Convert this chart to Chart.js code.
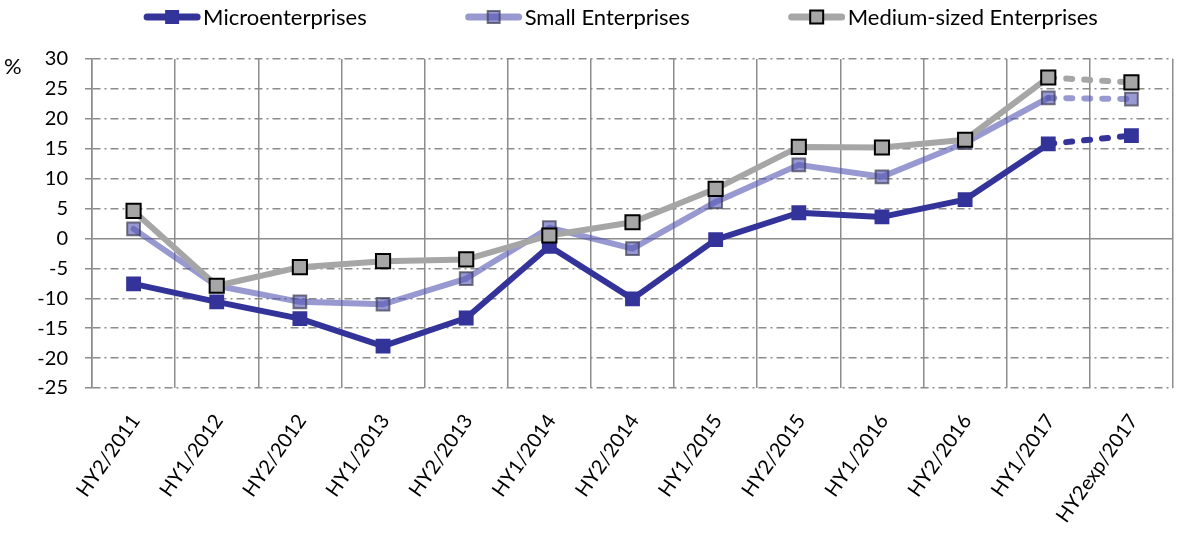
<!DOCTYPE html>
<html>
<head>
<meta charset="utf-8">
<script src="https://cdn.jsdelivr.net/npm/chart.js@4"></script>
<style>
  html, body { margin: 0; padding: 0; background: #fff; }
  #wrap { width: 1177px; height: 534px; position: relative; }
</style>
</head>
<body>
<div id="wrap"><canvas id="trendChart"></canvas></div>
<script>
const labels = ['HY2/2011', 'HY1/2012', 'HY2/2012', 'HY1/2013', 'HY2/2013', 'HY1/2014', 'HY2/2014',
                'HY1/2015', 'HY2/2015', 'HY1/2016', 'HY2/2016', 'HY1/2017', 'HY2exp/2017'];
const micro  = [-7.6, -10.6, -13.4, -18.0, -13.3, -1.3, -10.1, -0.2, 4.3, 3.6, 6.5, 15.8, 17.2];
const small  = [1.6, -7.9, -10.6, -11.0, -6.7, 1.8, -1.7, 6.1, 12.3, 10.3, 16.0, 23.5, 23.3];
const medium = [4.6, -7.9, -4.8, -3.8, -3.5, 0.5, 2.7, 8.3, 15.3, 15.2, 16.5, 26.9, 26.1];
const yMin = -25, yMax = 30, yStep = 5;

const FONT = 'Lato';
const GRID = '#8c8c8c';
const lastIdx = labels.length - 1;

// the last segment is the expected value, drawn dashed
const dashLast = { borderDash: ctx => ctx.p1DataIndex === lastIdx ? [6, 12] : undefined };

function series(label, data, opts) {
    return Object.assign({
        label: label,
        data: data,
        borderWidth: 6,
        borderCapStyle: 'round',
        borderJoinStyle: 'round',
        pointStyle: 'rect',
        tension: 0,
        fill: false,
        segment: dashLast
    }, opts);
}

// line + marker legend and the "%" unit label
const extras = {
    id: 'extras',
    afterDraw(chart) {
        const ctx = chart.ctx;
        const area = chart.chartArea;
        ctx.save();
        ctx.fillStyle = '#000';
        ctx.textBaseline = 'middle';
        ctx.font = '22px ' + FONT;
        ctx.fillText('%', 4, 67);

        const sample = 58, gap = 98, y = 17;
        const sets = chart.data.datasets;
        const widths = sets.map(ds => sample + 2 + ctx.measureText(ds.label).width);
        const total = widths.reduce((a, b) => a + b, 0) + gap * (sets.length - 1);
        let x = (area.left + area.right) / 2 - 12 - total / 2;
        sets.forEach((ds, i) => {
            ctx.strokeStyle = ds.borderColor;
            ctx.lineWidth = 7;
            ctx.lineCap = 'round';
            ctx.beginPath();
            ctx.moveTo(x + 4, y);
            ctx.lineTo(x + sample - 4, y);
            ctx.stroke();
            const s = ds.legendBox;
            ctx.fillStyle = ds.pointBackgroundColor;
            ctx.fillRect(x + sample / 2 - s / 2, y - s / 2, s, s);
            if (ds.pointBorderWidth) {
                ctx.lineWidth = ds.pointBorderWidth;
                ctx.strokeStyle = ds.pointBorderColor;
                ctx.strokeRect(x + sample / 2 - s / 2, y - s / 2, s, s);
            }
            ctx.fillStyle = '#000';
            ctx.fillText(ds.label, x + sample + 2, y + 1);
            x += widths[i] + gap;
        });
        ctx.restore();
    }
};

const chart = new Chart(document.getElementById('trendChart'), {
    type: 'line',
    data: {
        labels: labels,
        datasets: [
            series('Microenterprises', micro, {
                borderColor: '#333399',
                pointBackgroundColor: '#333399',
                pointBorderColor: '#333399',
                pointBorderWidth: 0,
                pointRadius: 10.5,
                pointHoverRadius: 10.5,
                legendBox: 14,
                order: 3
            }),
            series('Small Enterprises', small, {
                borderColor: 'rgba(85,85,180,0.6)',
                pointBackgroundColor: 'rgba(85,85,180,0.6)',
                pointBorderColor: 'rgba(60,60,80,0.7)',
                pointBorderWidth: 2,
                pointRadius: 9,
                pointHoverRadius: 9,
                legendBox: 12,
                order: 2
            }),
            series('Medium-sized Enterprises', medium, {
                borderColor: '#a6a6a6',
                pointBackgroundColor: '#a6a6a6',
                pointBorderColor: '#000',
                pointBorderWidth: 2,
                pointRadius: 10,
                pointHoverRadius: 10,
                legendBox: 13,
                order: 1
            })
        ]
    },
    options: {
        responsive: true,
        maintainAspectRatio: false,
        animation: false,
        layout: { autoPadding: false, padding: { top: 59, right: 4, left: 0, bottom: 0 } },
        plugins: {
            legend: { display: false },
            tooltip: { enabled: false }
        },
        scales: {
            x: {
                offset: true,
                grid: { offset: true, color: GRID, lineWidth: 1.5, drawTicks: false },
                border: { display: false },
                ticks: {
                    autoSkip: false,
                    maxRotation: 55,
                    minRotation: 55,
                    padding: 22,
                    labelOffset: 2,
                    color: '#000',
                    font: { family: FONT, size: 20 }
                },
                afterFit: scale => {
                    scale.height = 146;
                    scale.paddingLeft = 0;
                    scale.paddingRight = 0;
                }
            },
            y: {
                min: yMin,
                max: yMax,
                ticks: {
                    stepSize: yStep,
                    padding: 17,
                    color: '#000',
                    font: { family: FONT, size: 20 }
                },
                grid: {
                    color: GRID,
                    lineWidth: 1.5,
                    tickLength: 7,
                    tickBorderDash: [],
                    borderDash: ctx => ctx.tick && ctx.tick.value !== 0 ? [8, 4, 2, 4] : []
                },
                border: {
                    display: true,
                    color: GRID,
                    width: 1.5,
                    dash: ctx => ctx.tick && ctx.tick.value !== 0 ? [8, 4, 2, 4] : []
                },
                afterFit: scale => { scale.width = 92; }
            }
        }
    },
    plugins: [extras]
});
</script>
</body>
</html>
